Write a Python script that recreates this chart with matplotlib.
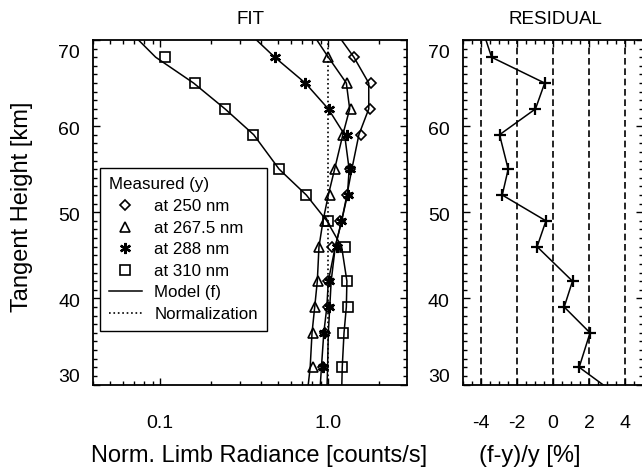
import matplotlib
matplotlib.use("Agg")
import matplotlib.pyplot as plt
from matplotlib.lines import Line2D
from matplotlib.ticker import FixedLocator, MultipleLocator, LogLocator, NullFormatter

plt.rcParams["font.family"] = ["Liberation Sans", "DejaVu Sans"]
plt.rcParams["axes.unicode_minus"] = False

# tangent heights of the measurements [km]
alt = [68, 65, 62, 59, 55, 52, 49, 46, 42, 39, 36, 32]
# model is drawn a bit beyond the plotted range
alt_model = [71, 68, 65, 62, 59, 55, 52, 49, 46, 42, 39, 36, 32, 29]

# measured radiances (normalized)
meas_250 = [1.42, 1.79, 1.77, 1.56, 1.34, 1.30, 1.17, 1.05, 1.00, 1.00, 0.95, 0.93]
meas_267 = [1.00, 1.29, 1.36, 1.23, 1.10, 1.02, 0.956, 0.884, 0.872, 0.834, 0.814, 0.81]
meas_288 = [0.482, 0.727, 1.01, 1.29, 1.345, 1.31, 1.185, 1.12, 1.01, 1.01, 0.94, 0.926]
meas_310 = [0.107, 0.160, 0.243, 0.358, 0.512, 0.737, 1.00, 1.26, 1.30, 1.31, 1.22, 1.21]

# model radiances
model_250 = [1.10, 1.42, 1.74, 1.74, 1.52, 1.38, 1.29, 1.20, 1.10, 1.04, 1.02, 1.00, 0.99, 0.98]
model_267 = [0.79, 1.00, 1.28, 1.34, 1.22, 1.09, 1.00, 0.93, 0.88, 0.86, 0.83, 0.80, 0.78, 0.75]
model_288 = [0.33, 0.48, 0.73, 1.00, 1.25, 1.33, 1.30, 1.20, 1.10, 1.00, 0.98, 0.94, 0.91, 0.89]
model_310 = [0.066, 0.094, 0.158, 0.243, 0.36, 0.51, 0.74, 0.98, 1.20, 1.29, 1.28, 1.24, 1.21, 1.20]

# residual (f-y)/y [%]
resid = [-3.87, -3.40, -0.46, -0.97, -2.96, -2.48, -2.81, -0.39, -0.88, 1.08, 0.62, 2.05, 1.45, 3.40]

W, H = 642, 472
fig = plt.figure(figsize=(W / 100, H / 100), dpi=100)

ax1 = fig.add_axes([93.3 / W, 1 - 384.5 / H, 314 / W, 344.5 / H])
ax2 = fig.add_axes([462.7 / W, 1 - 384.5 / H, 180.6 / W, 344.5 / H])

lw = 1.1
mk = dict(ls="none", mfc="none", mec="k", mew=1.2)
star = dict(ls="none", marker=(6, 2, 0), ms=8, mec="k", mew=1.7)

# ---- FIT panel
ax1.axvline(1.0, color="k", ls=":", lw=1.2)
for m in [model_250, model_267, model_288, model_310]:
    ax1.plot(m, alt_model, color="k", lw=lw)
ax1.plot(meas_250, alt, marker="D", ms=5.5, **mk)
ax1.plot(meas_267, alt, marker="^", ms=7, **mk)
ax1.plot(meas_310, alt, marker="s", ms=7, **mk)
ax1.plot(meas_288, alt, **star)

ax1.set_xscale("log")
ax1.set_xlim(0.04, 2.95)
ax1.set_ylim(30, 70)
ax1.xaxis.set_major_locator(FixedLocator([0.1, 1.0]))
ax1.xaxis.set_minor_locator(LogLocator(base=10, subs=range(2, 10)))
ax1.xaxis.set_minor_formatter(NullFormatter())
ax1.set_xticklabels(["0.1", "1.0"])

# ---- RESIDUAL panel
for v in [-4, -2, 0, 2, 4]:
    ax2.axvline(v, color="k", ls=(0, (4, 2.2)), lw=1.2)
ax2.plot(resid, alt_model, color="k", lw=lw, marker="+", ms=8, mew=1.6)
ax2.set_xlim(-5, 5)
ax2.set_ylim(30, 70)
ax2.xaxis.set_major_locator(MultipleLocator(2))
ax2.xaxis.set_minor_locator(MultipleLocator(0.5))

for ax in (ax1, ax2):
    ax.yaxis.set_major_locator(MultipleLocator(10))
    ax.yaxis.set_minor_locator(MultipleLocator(1))
    ax.tick_params(which="both", direction="in", top=True, right=True, width=1.0)
    ax.tick_params(which="major", length=5)
    ax.tick_params(which="minor", length=3)
    ax.tick_params(axis="x", labelsize=14, pad=22)
    ax.tick_params(axis="y", labelleft=False)
    for s in ax.spines.values():
        s.set_linewidth(1.3)
    # y labels drawn by hand, edge labels pulled inwards like in the original
    for v in [30, 40, 50, 60, 70]:
        dy = {70: -10, 30: 4.7}.get(v, -3.2)
        ax.annotate(str(v), xy=(0, v), xycoords=("axes fraction", "data"),
                    xytext=(-9.5, dy), textcoords="offset points",
                    ha="right", va="center", fontsize=14)

# legend
handles = [
    Line2D([], [], marker="D", ms=5.5, **mk),
    Line2D([], [], marker="^", ms=7, **mk),
    Line2D([], [], **star),
    Line2D([], [], marker="s", ms=7, **mk),
    Line2D([], [], color="k", lw=lw),
    Line2D([], [], color="k", lw=1.2, ls=":"),
]
labels = ["at 250 nm", "at 267.5 nm", "at 288 nm", "at 310 nm", "Model (f)", "Normalization"]
leg = ax1.legend(handles, labels, title="Measured (y)", loc="upper left",
                 bbox_to_anchor=((100 - 93.3) / 314, (384.5 - 168) / 344.5),
                 borderaxespad=0, fontsize=12.2, title_fontsize=12.2,
                 alignment="left", fancybox=False, edgecolor="k", framealpha=1,
                 handlelength=1.9, handletextpad=0.75, labelspacing=0.39,
                 borderpad=0.55)
leg.get_frame().set_linewidth(1.0)

fig.text(251 / W, 1 - 20 / H, "FIT", ha="center", va="center", fontsize=13.5)
fig.text(555 / W, 1 - 20 / H, "RESIDUAL", ha="center", va="center", fontsize=13.5)
fig.text(259 / W, 1 - 456 / H, "Norm. Limb Radiance [counts/s]", ha="center", va="center", fontsize=17)
fig.text(530 / W, 1 - 456 / H, "(f-y)/y [%]", ha="center", va="center", fontsize=17)
fig.text(22 / W, 1 - 207 / H, "Tangent Height [km]", ha="center", va="center",
         rotation=90, fontsize=17)

fig.savefig("out.png", dpi=100)
